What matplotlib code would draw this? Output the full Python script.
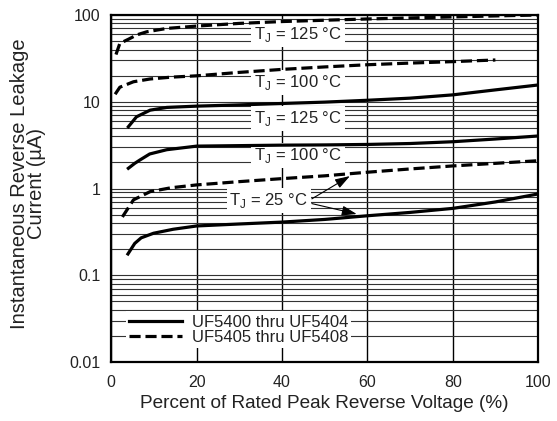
import matplotlib
matplotlib.use("Agg")
import matplotlib.pyplot as plt
from matplotlib.ticker import FixedLocator, LogLocator, NullFormatter

plt.rcParams['font.family'] = ['Liberation Sans', 'DejaVu Sans']
plt.rcParams['mathtext.fontset'] = 'custom'
plt.rcParams['mathtext.rm'] = 'Liberation Sans'
plt.rcParams['lines.scale_dashes'] = False

# ---- data ----
x_d125 = [1.1, 2.0, 4.0, 6.0, 8.3, 13, 20, 30, 40, 50, 60, 70, 80, 90, 100]
y_d125 = [35, 47, 52.5, 59, 64, 70, 74.5, 80, 84, 87, 90, 92.5, 95, 97.5, 100]

x_d100 = [0.9, 2.0, 5.2, 9.1, 14, 20, 30, 40, 50, 60, 70, 80, 90]
y_d100 = [12.2, 14.7, 17, 18.3, 19.2, 19.9, 21.8, 23.6, 25.2, 26.7, 27.9, 29, 30.3]

x_s125 = [4.0, 5.9, 9.1, 13, 20, 30, 40, 50, 60, 70, 80, 90, 100]
y_s125 = [5.15, 6.7, 8.0, 8.6, 8.9, 9.2, 9.55, 9.9, 10.4, 11.0, 12.0, 13.7, 15.6]

x_s100 = [4.0, 5.5, 6.7, 9.0, 13, 20, 30, 40, 50, 60, 70, 80, 90, 100]
y_s100 = [1.71, 1.95, 2.13, 2.5, 2.8, 3.08, 3.12, 3.16, 3.18, 3.22, 3.3, 3.46, 3.72, 4.03]

x_d25 = [2.6, 5.2, 9.1, 14, 20, 30, 40, 50, 60, 70, 80, 90, 100]
y_d25 = [0.47, 0.74, 0.92, 1.02, 1.1, 1.2, 1.3, 1.4, 1.54, 1.68, 1.82, 1.95, 2.09]

x_s25 = [3.9, 5.5, 7.0, 9.9, 14.5, 20, 30, 40, 50, 60, 70, 80, 90, 100]
y_s25 = [0.176, 0.233, 0.27, 0.305, 0.339, 0.37, 0.39, 0.41, 0.44, 0.485, 0.53, 0.59, 0.7, 0.865]

labels = ["T$_\\mathregular{J}$ = 125 °C", "T$_\\mathregular{J}$ = 100 °C",
          "T$_\\mathregular{J}$ = 125 °C", "T$_\\mathregular{J}$ = 100 °C"]
label_y = [52.9, 14.91, 5.645, 2.13]   # baselines
label_x = 43.7

legend_labels = ["UF5400 thru UF5404", "UF5405 thru UF5408"]
x_ticks = [0, 20, 40, 60, 80, 100]
y_ticks = [0.01, 0.1, 1, 10, 100]
y_ticklabels = ["0.01", "0.1", "1", "10", "100"]

# ---- figure ----
fig = plt.figure(figsize=(5.57, 4.21), dpi=100)
ax = fig.add_axes([0.1998, 0.1401, 0.7662, 0.8243])
ax.set_yscale('log')
ax.set_xlim(0, 100)
ax.set_ylim(0.01, 100)

ax.xaxis.set_major_locator(FixedLocator(x_ticks))
ax.set_yticks(y_ticks)
ax.set_yticklabels(y_ticklabels)
ax.yaxis.set_minor_locator(LogLocator(base=10, subs=range(2, 10)))
ax.yaxis.set_minor_formatter(NullFormatter())
ax.tick_params(which='both', length=0)
ax.tick_params(axis='y', pad=8, labelsize=11.5, colors='#222222')
ax.tick_params(axis='x', pad=9, labelsize=11.5, colors='#222222')

ax.grid(True, which='major', axis='x', color='black', lw=1.0, zorder=1)
ax.grid(True, which='both', axis='y', color='#333333', lw=0.8, zorder=1)
ax.set_axisbelow(True)
for s in ax.spines.values():
    s.set_linewidth(1.6)

lw = 2.3
dash = (8, 3.5)
l1, = ax.plot(x_s125, y_s125, color='black', lw=lw, zorder=5)
ax.plot(x_s100, y_s100, color='black', lw=lw, zorder=5)
ax.plot(x_s25, y_s25, color='black', lw=lw, zorder=5)
l2, = ax.plot(x_d125, y_d125, color='black', lw=lw, dashes=dash, zorder=5)
ax.plot(x_d100, y_d100, color='black', lw=lw, dashes=dash, zorder=5)
ax.plot(x_d25, y_d25, color='black', lw=lw, dashes=dash, zorder=5)

box = dict(facecolor='white', edgecolor='none', pad=2)
for lab, yy in zip(labels, label_y):
    ax.text(label_x, yy, lab, ha='center', va='baseline', fontsize=12,
            color='#222222', bbox=box, zorder=4)

ax.text(36.9, 0.645, "T$_\\mathregular{J}$ = 25 °C", ha='center', va='baseline',
        fontsize=12, color='#222222', bbox=box, zorder=4)
arrow = dict(arrowstyle='-|>,head_length=0.9,head_width=0.3',
             color='black', lw=0.8, shrinkA=0, shrinkB=0)
ax.annotate("", xy=(55.9, 1.39), xytext=(47.0, 0.76), arrowprops=arrow, zorder=6)
ax.annotate("", xy=(57.5, 0.508), xytext=(47.0, 0.67), arrowprops=arrow, zorder=6)

leg = ax.legend([l1, l2], legend_labels, loc='lower left',
                bbox_to_anchor=(0.034, 0.04), borderaxespad=0,
                fontsize=12, frameon=True, framealpha=1, fancybox=False,
                edgecolor='none', handlelength=3.2, handletextpad=0.55,
                borderpad=0.2, labelspacing=0.0)
for t in leg.get_texts():
    t.set_color('#222222')
leg.set_zorder(7)

ax.set_xlabel("Percent of Rated Peak Reverse Voltage (%)", fontsize=13.7,
              color='#222222')
ax.xaxis.set_label_coords(0.4985, -0.095)
ax.set_ylabel("Instantaneous Reverse Leakage\nCurrent (µA)", fontsize=14.5,
              linespacing=0.85, color='#222222')
ax.yaxis.set_label_coords(-0.153, 0.513)

fig.savefig("out.png", dpi=100)
